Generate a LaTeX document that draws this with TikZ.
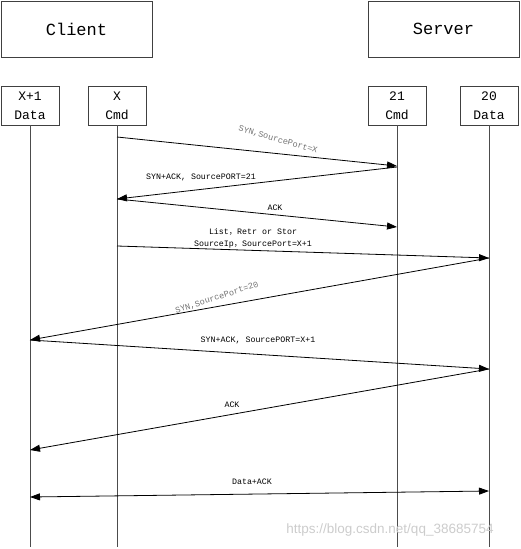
\documentclass[tikz,border=0pt]{standalone}
\usepackage{fontspec}
\setmainfont{Liberation Serif}
\setmonofont{Liberation Mono}
\setsansfont{Liberation Sans}
\newfontfamily\cjk{Noto Sans CJK SC}
\usetikzlibrary{arrows.meta}
\begin{document}
\begin{tikzpicture}[x=1pt,y=-1pt,
 bigbox/.style={draw=black!75, line width=0.9pt, minimum width=151pt, minimum height=56pt, inner sep=0pt, font=\ttfamily\fontsize{17}{20}\selectfont},
 portbox/.style={draw=black!75, line width=0.9pt, minimum width=58pt, minimum height=39pt, inner sep=0pt, align=center, font=\ttfamily\fontsize{13}{19}\selectfont},
 life/.style={draw=black!70, line width=0.8pt},
 msg/.style={draw=black, line width=0.8pt, -{Triangle[length=10pt,width=7pt]}},
 dmsg/.style={draw=black, line width=0.8pt, {Triangle[length=10pt,width=7pt]}-{Triangle[length=10pt,width=7pt]}},
 lbl/.style={font=\ttfamily\fontsize{8.3}{12}\selectfont, inner sep=0pt, align=center},
 glbl/.style={font=\ttfamily\fontsize{8.5}{11}\selectfont, text=black!55, inner sep=0pt},
 wmark/.style={font=\sffamily\fontsize{13.5}{15}\selectfont, text=black!20, inner sep=0pt}
]
\useasboundingbox (0,0) rectangle (520,549);

\node[bigbox] (client) at (76.5,29) {Client};
\node[bigbox] (server) at (443.5,29) {Server};

\node[portbox] (cdata) at (30,105.5) {X+1\\Data};
\node[portbox] (ccmd) at (117,105.5) {X\\Cmd};
\node[portbox] (scmd) at (397,105.5) {21\\Cmd};
\node[portbox] (sdata) at (489,105.5) {20\\Data};

\coordinate (cdataE) at (30,547);
\coordinate (ccmdE) at (117,547);
\coordinate (scmdE) at (397,547);
\coordinate (sdataE) at (489,547);

\draw[life] (cdata.south) -- (cdataE);
\draw[life] (ccmd.south) -- (ccmdE);
\draw[life] (scmd.south) -- (scmdE);
\draw[life] (sdata.south) -- (sdataE);

% message points
\coordinate (a1) at (117,137);
\coordinate (b1) at (397,166);
\coordinate (b2) at (397,167);
\coordinate (a2) at (117,199);
\coordinate (b3) at (397,227);
\coordinate (a4) at (117,246);
\coordinate (d4) at (489,258);
\coordinate (c5) at (30,340);
\coordinate (d6) at (489,369);
\coordinate (c7) at (30,450);
\coordinate (c8) at (30,497);
\coordinate (d8) at (489,491);

\draw[msg] (a1) -- (b1);
\draw[msg] (b2) -- (a2);
\draw[msg] (a2) -- (b3);
\draw[msg] (a4) -- (d4);
\draw[msg] (d4) -- (c5);
\draw[msg] (c5) -- (d6);
\draw[msg] (d6) -- (c7);
\draw[dmsg] (c8) -- (d8);

\node[glbl, rotate=-16] (l1) at (278,140) {SYN,SourcePort=X};
\node[lbl] (l2) at (201,177) {SYN+ACK, SourcePORT=21};
\node[lbl] (l3) at (275,208) {ACK};
\node[lbl] (l4a) at (253,232) {List{\cjk ，}Retr or Stor};
\node[lbl] (l4b) at (253,245) {SourceIp{\cjk ，}SourcePort=X+1};
\node[glbl, rotate=18] (l5) at (217,298) {SYN,SourcePort=20};
\node[lbl] (l6) at (258,340) {SYN+ACK, SourcePORT=X+1};
\node[lbl] (l7) at (232,405) {ACK};
\node[lbl] (l8) at (252,482) {Data+ACK};

\node[wmark] (wm) at (390,530) {https://blog.csdn.net/qq\_38685754};
\end{tikzpicture}
\end{document}
